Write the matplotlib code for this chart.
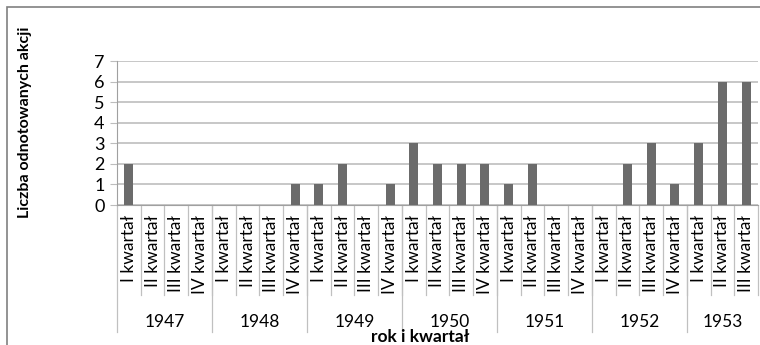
import matplotlib
matplotlib.use("Agg")
import matplotlib.pyplot as plt
from matplotlib.patches import Rectangle

plt.rcParams['font.family'] = ['Lato', 'DejaVu Sans']

years = ['1947', '1948', '1949', '1950', '1951', '1952', '1953']
quarters_per_year = [4, 4, 4, 4, 4, 4, 3]
quarter_names = ['I kwartał', 'II kwartał', 'III kwartał', 'IV kwartał']
values = [2, 0, 0, 0,
          0, 0, 0, 1,
          1, 2, 0, 1,
          3, 2, 2, 2,
          1, 2, 0, 0,
          0, 2, 3, 1,
          3, 6, 6]

labels = []
for n in quarters_per_year:
    labels += quarter_names[:n]
x = list(range(len(values)))

fig = plt.figure(figsize=(7.6, 3.45), dpi=100)
ax = fig.add_axes([117/760, 1 - 205/345, 641/760, 144/345])

ax.bar(x, values, width=0.38, color='#6b6b6b', zorder=3)
ax.set_xlim(-0.5, len(values) - 0.5)
ax.set_ylim(0, 7)
ax.set_yticks(range(8))
ax.grid(axis='y', color='#bdbdbd', linewidth=1.2, zorder=0)
ax.tick_params(axis='y', length=5, color='#bdbdbd', labelsize=13, pad=4)
ax.tick_params(axis='x', length=0, labelsize=12.5, pad=7)
ax.set_xticks(x)
ax.set_xticklabels(labels, rotation=90, va='top')

for s in ['top', 'right']:
    ax.spines[s].set_visible(False)
ax.spines['left'].set_color('#a0a0a0')
ax.spines['bottom'].set_color('#a0a0a0')

# category separators
trans = ax.get_xaxis_transform()
for b in range(len(values)):
    ax.plot([b + 0.5, b + 0.5], [0, -0.625], transform=trans,
            color='#c0c0c0', linewidth=0.9, clip_on=False)
start = 0
ax.plot([-0.5, -0.5], [0, -0.882], transform=trans,
        color='#c0c0c0', linewidth=0.9, clip_on=False)
for yr, n in zip(years, quarters_per_year):
    mid = start + (n - 1) / 2
    ax.text(mid, -0.815, yr, transform=trans, ha='center', va='center',
            fontsize=12.5)
    end = start + n - 0.5
    if yr != years[-1]:
        ax.plot([end, end], [0, -0.882], transform=trans,
                color='#c0c0c0', linewidth=0.9, clip_on=False)
    start += n

fig.text(420/760, 1 - 337/345, 'rok i kwartał', ha='center', va='center',
         fontsize=12.5, fontweight='bold')
fig.text(25/760, 1 - 122/345, 'Liczba odnotowanych akcji', ha='center',
         va='center', rotation=90, fontsize=11.5, fontweight='bold')

fig.patches.append(Rectangle((7/760, -0.1), 1.1, 1 - 7/345 + 0.1,
                             transform=fig.transFigure, fill=False,
                             edgecolor='#808080', linewidth=1.2))

fig.savefig('out.png', dpi=100)
